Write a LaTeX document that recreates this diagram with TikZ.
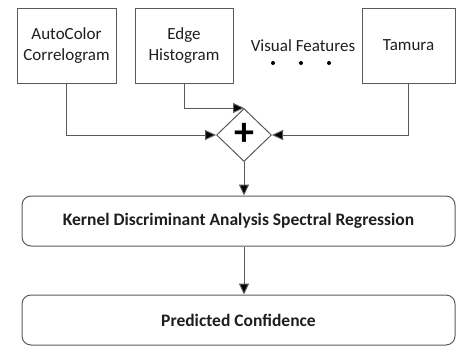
\documentclass[tikz,border=0pt]{standalone}
\usepackage{fontspec}
\setmainfont{Carlito}
\usetikzlibrary{shapes.geometric,arrows.meta}
\definecolor{linegray}{RGB}{90,90,90}
\definecolor{txt}{RGB}{30,30,30}
\tikzset{
  feat/.style={draw=linegray, text=txt, line width=1pt, rectangle, minimum height=75pt, align=center, inner sep=0pt, font=\fontsize{17}{21}\selectfont},
  wide/.style={draw=linegray, text=txt, line width=1pt, rectangle, rounded corners=9pt, minimum width=433pt, minimum height=50pt, inner sep=0pt, font=\fontsize{17.5}{20}\selectfont\bfseries},
  conn/.style={draw=linegray, line width=1pt, -{Triangle[length=11pt,width=10pt,fill=black]}},
  dot/.style={circle, fill=black, inner sep=0pt, minimum size=4pt},
}
\begin{document}
\begin{tikzpicture}[x=1pt,y=-1pt]
\useasboundingbox (0,0) rectangle (456,346);
\node[feat, minimum width=99pt] (auto) at (66.5,45.5) {AutoColor\\Correlogram};
\node[feat, minimum width=98pt] (edge) at (184,45.5) {Edge\\Histogram};
\node[feat, minimum width=93pt] (tam) at (408.5,45.5) {Tamura};
\node[font=\fontsize{17}{21}\selectfont, text=txt, inner sep=0pt] (vf) at (303,46) {Visual Features};
\node[dot] (d1) at (273,63) {};
\node[dot] (d2) at (301,63) {};
\node[dot] (d3) at (329,63) {};
\node[diamond, draw=linegray, line width=1pt, minimum width=55pt, minimum height=53pt, inner sep=0pt, font=\fontsize{40}{40}\selectfont\bfseries] (sum) at (244,135) {\raisebox{1pt}{+}};
\node[wide] (kda) at (238.5,221) {Kernel Discriminant Analysis Spectral Regression};
\node[wide] (pred) at (238.5,320) {Predicted Confidence};
\draw[conn] (auto.south) |- (sum.west);
\draw[conn] (edge.south) |- (sum.north);
\draw[conn] (tam.south) |- (sum.east);
\draw[conn] (sum.south) -- (sum.south |- kda.north);
\draw[conn] (sum.south |- kda.south) -- (sum.south |- pred.north);
\end{tikzpicture}
\end{document}
